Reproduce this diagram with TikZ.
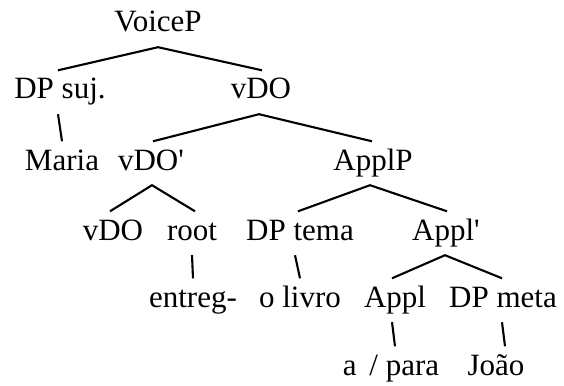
\documentclass[tikz,border=0pt]{standalone}
\usepackage{fontspec}
\setmainfont{Liberation Serif}
\begin{document}
\begin{tikzpicture}[x=1pt,y=-1pt,
  lbl/.style={anchor=base, inner xsep=0pt, inner ysep=6.5pt,
    text height=22pt, text depth=8.5pt,
    font=\fontsize{31}{36}\selectfont},
  branch/.style={line width=2.1pt}]
\useasboundingbox (0,0) rectangle (564,385);
% level 0
\node[lbl] (voice) at (158,32) {VoiceP};
% level 1
\node[lbl] (dpsuj) at (60,99) {DP suj.};
\node[lbl] (vdo) at (261,99) {vDO};
% level 2
\node[lbl] (maria) at (62,170) {Maria};
\node[lbl] (vdobar) at (151,170) {vDO\textquotesingle};
\node[lbl] (applp) at (373,170) {ApplP};
% level 3
\node[lbl] (vdohead) at (113,240) {vDO};
\node[lbl] (root) at (192,240) {root};
\node[lbl] (dptema) at (300,240) {DP tema};
\node[lbl] (applbar) at (446,240) {Appl\textquotesingle};
% level 4
\node[lbl] (entreg) at (193,307) {entreg-};
\node[lbl] (livro) at (300,307) {o livro};
\node[lbl] (appl) at (395,307) {Appl};
\node[lbl] (dpmeta) at (503,307) {DP meta};
% level 5
\node[lbl] (para) at (391,375) {a\, / para};
\node[lbl] (joao) at (496,375) {João};
% branches
\draw[branch] ([xshift=-2]dpsuj.north) -- (voice.south) -- ([xshift=1]vdo.north);
\draw[branch] ([xshift=-2]dpsuj.south) -- (maria.north);
\draw[branch] ([xshift=2]vdobar.north) -- ([xshift=-2]vdo.south) -- ([xshift=-1]applp.north);
\draw[branch] ([xshift=-3]vdohead.north) -- ([xshift=1]vdobar.south) -- ([xshift=3]root.north);
\draw[branch] (root.south) -- (entreg.north);
\draw[branch] ([xshift=-2]dptema.north) -- ([xshift=-3]applp.south) -- ([xshift=1]applbar.north);
\draw[branch] ([xshift=-5]dptema.south) -- (livro.north);
\draw[branch] ([xshift=-3]appl.north) -- ([xshift=-1]applbar.south) -- ([xshift=-1]dpmeta.north);
\draw[branch] ([xshift=-3]appl.south) -- ([xshift=4]para.north);
\draw[branch] ([xshift=-1]dpmeta.south) -- ([xshift=9]joao.north);
\end{tikzpicture}
\end{document}
